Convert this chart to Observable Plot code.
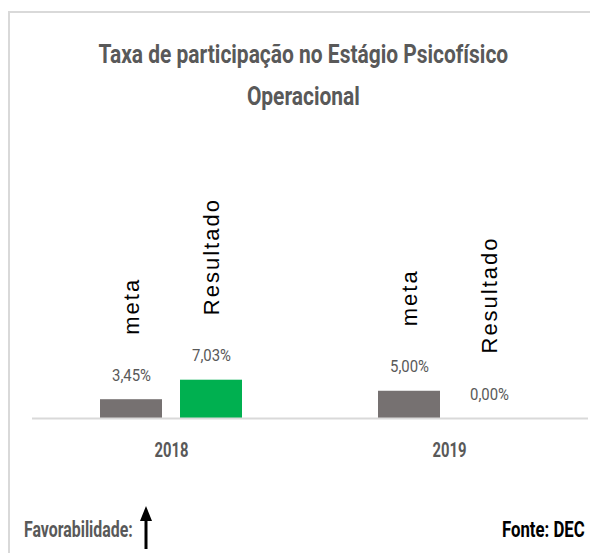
<!DOCTYPE html>
<html>
<head>
<meta charset="utf-8">
<script src="https://cdn.jsdelivr.net/npm/d3@7"></script>
<script src="https://cdn.jsdelivr.net/npm/@observablehq/plot@0.6"></script>
<style>
  html, body { margin: 0; padding: 0; background: #fff; }
  #wrap { position: relative; width: 590px; height: 553px; overflow: hidden; background: #fff; }
  #frame { position: absolute; left: 8px; top: 11px; width: 700px; height: 700px;
           border-left: 2px solid #d9d9d9; border-top: 2px solid #d9d9d9; }
  .cond { font-family: Roboto, "DejaVu Sans Condensed", sans-serif; white-space: nowrap; }
  #title { position: absolute; left: 9px; width: 588px; top: 34px; text-align: center;
           font-size: 25px; font-weight: bold; color: #595959; line-height: 42px; }
  #title span { display: inline-block; transform-origin: 50% 50%; }
  #chart { position: absolute; left: 0; top: 120px; }
  #fav { position: absolute; left: 24px; top: 517px; font-size: 22px; font-weight: bold; color: #595959;
         transform-origin: 0 50%; }
  #arrow { position: absolute; left: 138px; top: 504px; }
  #fonte { position: absolute; right: 5px; top: 517px; font-size: 22px; font-weight: bold; color: #000;
           transform-origin: 100% 50%; }
</style>
</head>
<body>
<div id="wrap">
  <div id="frame"></div>
  <div id="title" class="cond"><span id="t1">Taxa de participação no Estágio Psicofísico</span><br><span id="t2">Operacional</span></div>
  <div id="chart"></div>
  <div id="fav" class="cond">Favorabilidade:</div>
  <svg id="arrow" width="16" height="46"><line x1="8" y1="14" x2="8" y2="45" stroke="#000" stroke-width="3"/><path d="M2,17 L8,2 L14,17 Z" fill="#000"/></svg>
  <div id="fonte" class="cond">Fonte: DEC</div>
</div>
<script>
const years = ["2018", "2019"];
const series = ["meta", "Resultado"];
const metaValues = [3.45, 5.00];
const resultadoValues = [7.03, 0.00];
const valueLabels = [["3,45%", "7,03%"], ["5,00%", "0,00%"]];
const seriesColors = ["#767171", "#00b050"];

const data = [];
years.forEach((yr, i) => {
  data.push({year: yr, series: series[0], value: metaValues[i], label: valueLabels[i][0]});
  data.push({year: yr, series: series[1], value: resultadoValues[i], label: valueLabels[i][1]});
});

const cond = 'Roboto, "DejaVu Sans Condensed", sans-serif';

const chart = Plot.plot({
  width: 590,
  height: 360,
  marginLeft: 31,
  marginRight: 2,
  marginTop: 0,
  marginBottom: 62,
  fx: {domain: years, padding: 0, axis: null},
  x: {domain: series, paddingInner: 0.225, paddingOuter: 0.85, axis: null},
  y: {domain: [0, 54.7], axis: null},
  color: {domain: series, range: seriesColors},
  style: {background: "transparent"},
  marks: [
    Plot.barY(data, {fx: "year", x: "series", y: "value", fill: "series"}),
    Plot.ruleY([0], {stroke: "#d9d9d9", strokeWidth: 2}),
    Plot.text(data, {fx: "year", x: "series", y: "value", text: "label", dy: -19,
      fill: "#595959", fontSize: 17, fontFamily: cond}),
    Plot.text(data, {fx: "year", x: "series", y: "value", text: "series", dy: -65,
      rotate: -90, textAnchor: "start", fill: "#000", fontSize: 22,
      fontFamily: "Liberation Sans, Arial, sans-serif"}),
    Plot.text(years, {fx: d => d, text: d => d, frameAnchor: "bottom", dy: 38,
      fill: "#595959", fontSize: 20, fontWeight: "bold", fontFamily: cond})
  ]
});
document.getElementById("chart").appendChild(chart);

// horizontal condensing of texts (to mimic the narrow original typeface)
function squeeze(t, f) {
  const x = +t.getAttribute("x") || 0, y = +t.getAttribute("y") || 0;
  const tr = t.getAttribute("transform") || "";
  t.setAttribute("x", 0); t.setAttribute("y", 0);
  t.setAttribute("transform", `${tr} translate(${x},${y}) scale(${f},1)`);
}
const texts = Array.from(chart.querySelectorAll("text"));
const valTexts = texts.filter(t => t.textContent.includes("%"));
const yearTexts = texts.filter(t => years.includes(t.textContent));
const serTexts = texts.filter(t => series.includes(t.textContent));
serTexts.forEach(t => t.style.letterSpacing = "2px");
const vRef = valTexts.find(t => t.textContent === "3,45%");
const fVal = 39 / vRef.getComputedTextLength();
valTexts.forEach(t => squeeze(t, fVal));
const fYear = 34 / yearTexts[0].getComputedTextLength();
yearTexts.forEach(t => squeeze(t, fYear));

// HTML texts
const t1 = document.getElementById("t1"), t2 = document.getElementById("t2");
const fT = 410 / t1.offsetWidth;
t1.style.transform = `scaleX(${fT})`;
t2.style.transform = `scaleX(${fT})`;
const fav = document.getElementById("fav");
fav.style.transform = `scaleX(${109 / fav.offsetWidth})`;
const fonte = document.getElementById("fonte");
fonte.style.transform = `scaleX(${83 / fonte.offsetWidth})`;
</script>
</body>
</html>
